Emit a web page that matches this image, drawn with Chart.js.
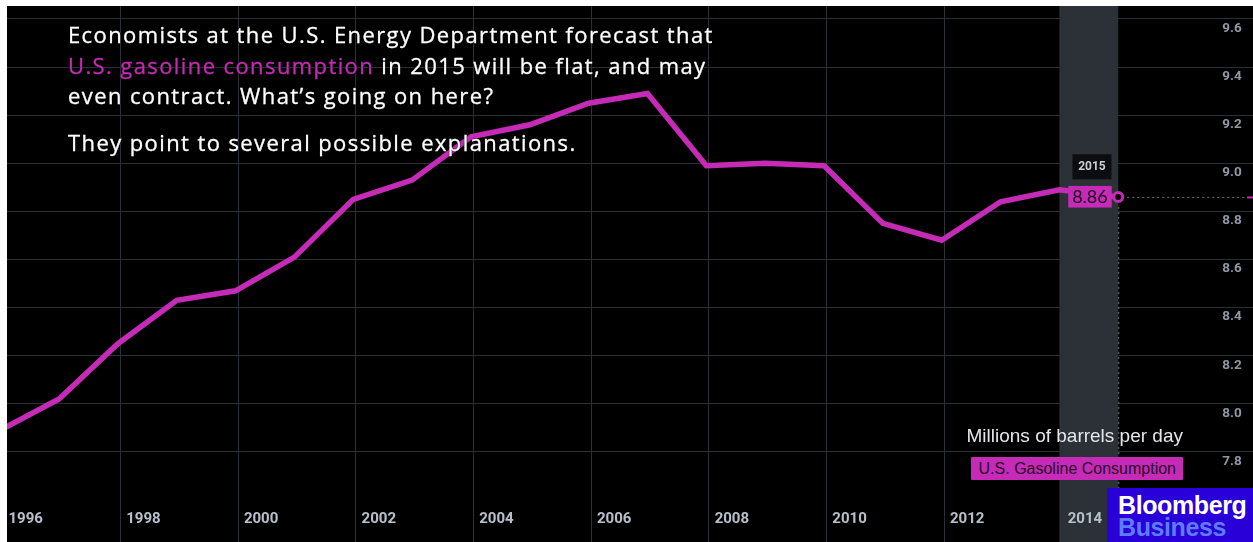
<!DOCTYPE html>
<html>
<head>
<meta charset="utf-8">
<script src="https://cdn.jsdelivr.net/npm/chart.js"></script>
<style>
    body { margin: 0; background: #fff; width: 1253px; height: 542px; overflow: hidden; position: relative; }
    #chart_wrap { position: absolute; left: 7px; top: 6px; width: 1246px; height: 536px; background: #000; }
    #chart_wrap canvas { display: block; }
    #intro { position: absolute; left: 68px; top: 19px; font-family: "Open Sans", "Noto Sans", sans-serif; font-size: 22px;
        line-height: 30.7px; color: #fff; -webkit-text-stroke: 0.3px currentColor;
        text-shadow: 0 0 2px #000, 0 0 1px #000; }
    #intro p { margin: 0; white-space: nowrap; }
    #intro p.second { margin-top: 16px; }
    #intro .hl { color: #c52bb7; }
    #units { position: absolute; right: 70px; top: 426px; font-family: "Liberation Sans", Arial, sans-serif;
        font-size: 19px; line-height: 19px; color: #e4e7ea; white-space: nowrap; }
    #legend_box { position: absolute; right: 70px; top: 457px; height: 23px; line-height: 23px; padding: 0 7px 0 8px;
        background: #c52bb7; color: #2a0828; font-family: "Liberation Sans", Arial, sans-serif; font-size: 16px;
        border-radius: 1px; white-space: nowrap; }
    #logo { position: absolute; left: 1107px; top: 488px; width: 146px; height: 54px; background: #2a00d8;
        font-family: "Liberation Sans", Arial, sans-serif; font-weight: bold; font-size: 25px; letter-spacing: -0.4px; }
    #logo .l1 { position: absolute; left: 11px; top: 5px; line-height: 25px; color: #fff; }
    #logo .l2 { position: absolute; left: 11px; top: 27px; line-height: 25px; color: #5d7dff; }
</style>
</head>
<body>
<div id="chart_wrap"><canvas id="gas_chart" width="1246" height="536"></canvas></div>
<div id="intro">
    <p><span id="first_line">Economists at the U.S. Energy Department forecast that</span><br><span class="hl">U.S. gasoline consumption</span> in 2015 will be flat, and may<br>even contract. What’s going on here?</p>
    <p class="second">They point to several possible explanations.</p>
</div>
<div id="units">Millions of barrels per day</div>
<div id="legend_box">U.S. Gasoline Consumption</div>
<div id="logo"><span class="l1">Bloomberg</span><span class="l2">Business</span></div>
<script>
// U.S. gasoline consumption, millions of barrels per day (2015 = forecast)
var years = [1996, 1997, 1998, 1999, 2000, 2001, 2002, 2003, 2004, 2005,
    2006, 2007, 2008, 2009, 2010, 2011, 2012, 2013, 2014, 2015];
var consumption = [7.89, 8.02, 8.25, 8.43, 8.47, 8.61, 8.85, 8.93, 9.11, 9.16,
    9.25, 9.29, 8.99, 9.00, 8.99, 8.75, 8.68, 8.84, 8.89, 8.86];
var yearTicks = [1996, 1998, 2000, 2002, 2004, 2006, 2008, 2010, 2012, 2014];
var valueTicks = [7.8, 8.0, 8.2, 8.4, 8.6, 8.8, 9.0, 9.2, 9.4, 9.6];
var shadeFrom = 2014;
var forecastYear = 2015;
var forecastValue = 8.86;

var lineColor = '#c52bb7';
var gridColor = '#2b3036';
var lastIndex = years.length - 1;

// stretch the intro text so the first line has the same width as in the original
(function () {
    var first = document.getElementById('first_line');
    var w = first.getBoundingClientRect().width;
    var spacing = (646 - w) / first.textContent.length;
    document.getElementById('intro').style.letterSpacing = spacing.toFixed(2) + 'px';
})();

// grey band over the forecast year
var bandPlugin = {
    id: 'band',
    beforeDraw: function (chart) {
        var c = chart.ctx, a = chart.chartArea, x = chart.scales.x;
        var x0 = x.getPixelForValue(shadeFrom), x1 = x.getPixelForValue(forecastYear);
        c.save();
        c.fillStyle = '#2c3137';
        c.fillRect(x0, a.top, x1 - x0, a.bottom - a.top);
        c.restore();
    }
};

// tick labels sit inside the plot, like the original
var axisLabelPlugin = {
    id: 'axisLabels',
    afterDraw: function (chart) {
        var c = chart.ctx, a = chart.chartArea, xs = chart.scales.x, ys = chart.scales.y;
        c.save();
        c.textBaseline = 'middle';
        c.textAlign = 'left';
        c.fillStyle = '#b7c0ca';
        c.font = 'bold 15px Roboto, Arial, sans-serif';
        yearTicks.forEach(function (y) {
            c.fillText(String(y), xs.getPixelForValue(y) + 8.3, a.bottom - 22.8);
        });
        c.textAlign = 'right';
        c.fillStyle = '#8e98a3';
        c.font = 'bold 13.5px Roboto, Arial, sans-serif';
        valueTicks.forEach(function (v) {
            c.fillText(v.toFixed(1), a.right - 11.3, ys.getPixelForValue(v) + 9.5);
        });
        c.restore();
    }
};

// crosshair + value flag at the 2015 point
var flagPlugin = {
    id: 'flag',
    afterDatasetsDraw: function (chart) {
        var c = chart.ctx, a = chart.chartArea;
        var px = chart.scales.x.getPixelForValue(forecastYear);
        var py = chart.scales.y.getPixelForValue(forecastValue);
        c.save();
        c.strokeStyle = '#6d7278';
        c.lineWidth = 1;
        c.setLineDash([2, 3]);
        c.beginPath();
        c.moveTo(px + 9, py + 0.5);
        c.lineTo(a.right - 7, py + 0.5);
        c.moveTo(px + 0.5, py + 10);
        c.lineTo(px + 0.5, a.bottom);
        c.stroke();
        c.setLineDash([]);
        c.strokeStyle = lineColor;
        c.lineWidth = 2;
        c.beginPath();
        c.moveTo(a.right - 6, py + 0.5);
        c.lineTo(a.right, py + 0.5);
        c.stroke();

        c.fillStyle = lineColor;
        c.fillRect(px - 50, py - 11, 43.5, 21.6);
        c.fillStyle = '#1f081d';
        c.font = '18px Lato, "Noto Sans", sans-serif';
        c.textAlign = 'center';
        c.textBaseline = 'middle';
        c.fillText(forecastValue.toFixed(2), px - 28.3, py + 0.5);

        c.fillStyle = '#0c0d10';
        c.fillRect(px - 45.8, py - 42.7, 39, 25);
        c.fillStyle = '#c9ced4';
        c.font = 'bold 12px Roboto, Arial, sans-serif';
        c.fillText(String(forecastYear), px - 26.3, py - 30);
        c.restore();
    }
};

var chart = new Chart('gas_chart', {
    type: 'line',
    data: {
        datasets: [{
            label: 'U.S. Gasoline Consumption',
            data: years.map(function (y, i) { return {x: y, y: consumption[i]}; }),
            borderColor: lineColor,
            borderWidth: 5.5,
            tension: 0,
            pointRadius: function (ctx) { return ctx.dataIndex === lastIndex ? 4.5 : 0; },
            pointHoverRadius: 0,
            pointBorderWidth: 3,
            pointBackgroundColor: '#000',
            pointBorderColor: lineColor
        }]
    },
    options: {
        responsive: false,
        animation: false,
        devicePixelRatio: 1,
        layout: {padding: 0, autoPadding: false},
        events: [],
        plugins: {legend: {display: false}, tooltip: {enabled: false}},
        scales: {
            x: {
                type: 'linear',
                position: 'bottom',
                min: 1996.1156,
                max: 2017.29,
                afterBuildTicks: function (scale) {
                    // grid lines sit a little right of the data points
                    scale.ticks = yearTicks.map(function (y) { return {value: y + 0.045}; });
                },
                afterFit: function (scale) { scale.height = 0; },
                grid: {color: gridColor, drawTicks: false},
                border: {display: false},
                ticks: {display: false}
            },
            y: {
                position: 'right',
                min: 7.4254,
                max: 9.654,
                afterBuildTicks: function (scale) {
                    scale.ticks = valueTicks.map(function (v) { return {value: v}; });
                },
                afterFit: function (scale) { scale.width = 0; },
                grid: {color: gridColor, drawTicks: false},
                border: {display: false},
                ticks: {display: false}
            }
        }
    },
    plugins: [bandPlugin, axisLabelPlugin, flagPlugin]
});
</script>
</body>
</html>
